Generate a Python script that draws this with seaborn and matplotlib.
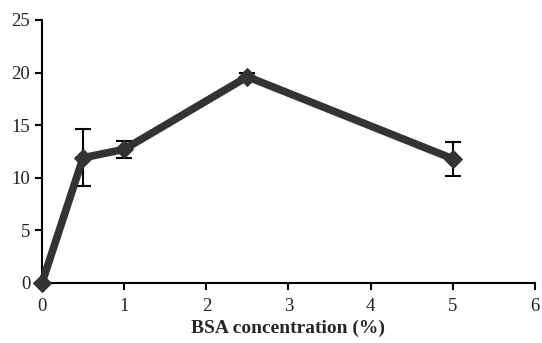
import matplotlib
matplotlib.use("Agg")
import matplotlib.pyplot as plt
import seaborn as sns
import pandas as pd

bsa_conc = [0, 0.5, 1, 2.5, 5]
values = [0.0, 11.9, 12.7, 19.6, 11.8]
errors = [0.0, 2.7, 0.8, 0.4, 1.6]
xticks = [0, 1, 2, 3, 4, 5, 6]
yticks = [0, 5, 10, 15, 20, 25]

sns.set_style("ticks")
plt.rcParams['font.family'] = ['Liberation Serif', 'DejaVu Serif']

fig = plt.figure(figsize=(5.42, 3.43), dpi=100)
ax = fig.add_axes([0.0775, 0.175, 0.9095, 0.767])

df = pd.DataFrame({"x": bsa_conc, "y": values})
col = "#333333"
ax.errorbar(bsa_conc, values, yerr=errors, fmt="none", ecolor="black",
            elinewidth=1.5, capsize=6, capthick=1.5, zorder=2)
sns.lineplot(data=df, x="x", y="y", ax=ax, color=col, linewidth=5.5,
             marker="D", markersize=9, markeredgecolor=col, zorder=3)
for ln in ax.get_lines():
    ln.set_clip_on(False)

ax.set_xlim(0, 6)
ax.set_ylim(0, 25)
ax.set_xticks(xticks)
ax.set_yticks(yticks)
ax.tick_params(axis="both", labelsize=13.5, length=5, width=1.5, direction="out", colors="black")
ax.tick_params(axis="x", pad=6)
for s in ["left", "bottom"]:
    ax.spines[s].set_linewidth(1.5)
    ax.spines[s].set_color("black")
sns.despine(ax=ax)
ax.set_xlabel("BSA concentration (%)", fontsize=14, fontweight="bold", labelpad=3)
ax.set_ylabel("")
for lab in ax.get_xticklabels() + ax.get_yticklabels():
    lab.set_color("#222222")

fig.savefig("out.png", dpi=100)
